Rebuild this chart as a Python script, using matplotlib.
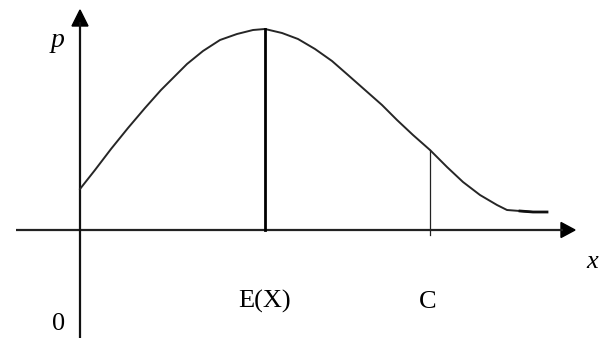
import matplotlib
matplotlib.use("Agg")
import matplotlib.pyplot as plt
from matplotlib.patches import Polygon

# Curve (x, p); origin at axis crossing, units = pixels
curve_x = [0, 15, 31, 48, 65, 81, 98, 107, 123, 140, 157, 173, 185, 202, 218, 235, 252, 268,
           285, 302, 317, 333, 350, 367, 383, 400, 417, 427, 440, 453, 467]
curve_p = [41, 60, 81, 102, 122, 140, 157, 166, 179, 190, 196, 200, 201, 197, 191, 181, 169, 155,
           140, 125, 110, 95, 80, 63, 48, 35, 25, 20, 19, 18, 18]
ex_x = 185      # E(X)
ex_p = 201
c_x = 350       # C
c_p = 80
x_axis = (-64, 495)
p_axis = (-110, 220)
tick_labels = ["E(X)", "C"]

W, H = 601, 338
fig = plt.figure(figsize=(W / 100, H / 100), dpi=100)
ax = fig.add_axes([0, 0, 1, 1])
ox, oy = 80, 230
ax.set_xlim(-ox, W - ox)
ax.set_ylim(oy - H, oy)
ax.axis("off")

# axes
ax.plot([x_axis[0], x_axis[1] - 12], [0, 0], color="#222222", lw=1.6, solid_capstyle="butt")
ax.plot([0, 0], [p_axis[0], p_axis[1] - 12], color="#111111", lw=1.6, solid_capstyle="butt")
ax.add_patch(Polygon([[x_axis[1], 0], [x_axis[1] - 14, 7.5], [x_axis[1] - 14, -7.5]],
                     closed=True, color="black"))
ax.add_patch(Polygon([[0, p_axis[1]], [-8, p_axis[1] - 16], [8, p_axis[1] - 16]],
                     closed=True, color="black"))

# curve
ax.plot(curve_x, curve_p, color="#262626", lw=1.4, solid_joinstyle="round")
ax.plot(curve_x[-3:], curve_p[-3:], color="#111111", lw=2.0)

# vertical lines
ax.plot([ex_x, ex_x], [0, ex_p], color="black", lw=2.0)
ax.plot([c_x, c_x], [-5, c_p], color="#222222", lw=0.9)

serif = ["Liberation Serif", "DejaVu Serif"]
ax.text(ex_x, -78, tick_labels[0], fontsize=19, family=serif, ha="center", va="baseline")
ax.text(c_x - 2, -78, tick_labels[1], fontsize=19, family=serif, ha="center", va="baseline")
ax.text(-21, -100, "0", fontsize=19, family=serif, ha="center", va="baseline")
ax.text(-22, 183, "p", fontsize=20, family=serif, style="italic", ha="center", va="baseline")
ax.text(512, -38, "x", fontsize=19, family=serif, style="italic", ha="center", va="baseline")

fig.savefig("out.png", dpi=100)
